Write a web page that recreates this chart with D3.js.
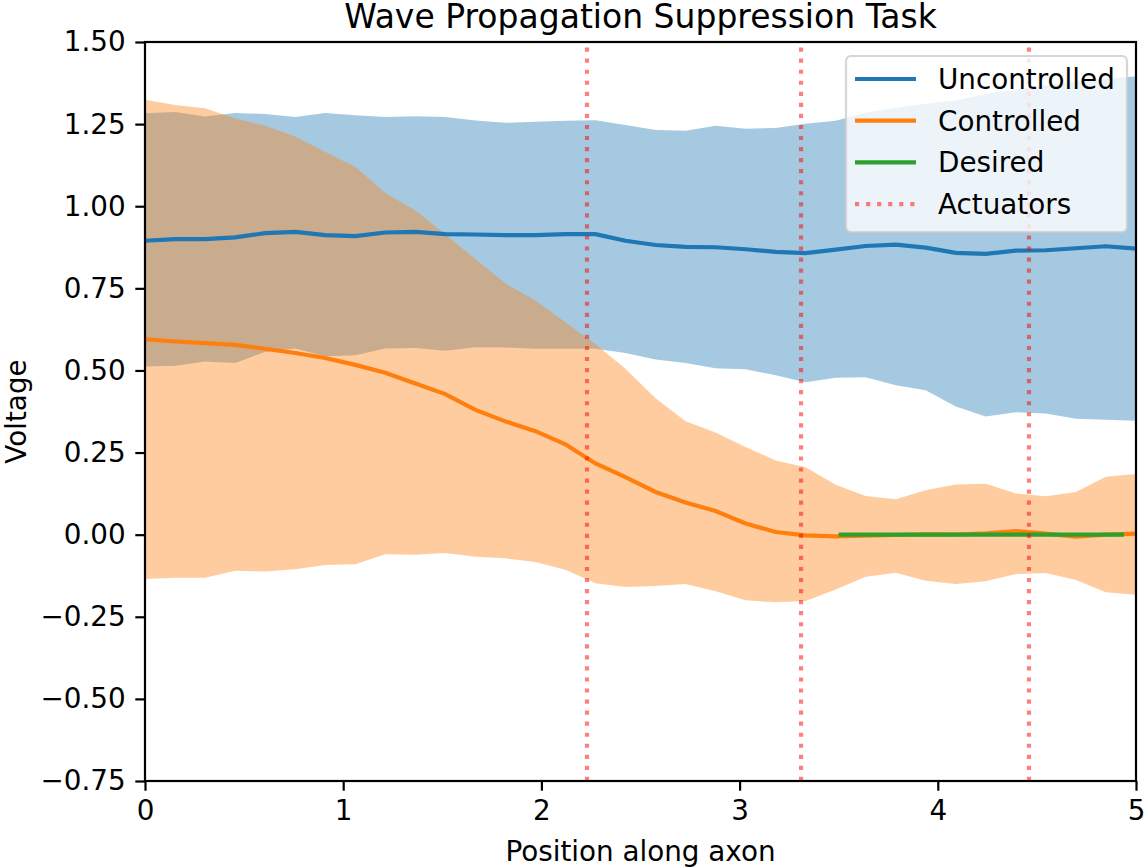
<!DOCTYPE html>
<html>
<head>
<meta charset="utf-8">
<script src="https://cdn.jsdelivr.net/npm/d3@7"></script>
<style>
  body { margin: 0; background: #fff; }
  text { font-family: "DejaVu Sans", sans-serif; fill: #000; }
</style>
</head>
<body>
<svg id="chart" width="1144" height="868"></svg>
<script>
// positions along the axon (every second grid point of the simulation)
const positions = [0, 0.152, 0.303, 0.455, 0.606, 0.758, 0.909, 1.061, 1.212, 1.364,
  1.515, 1.667, 1.818, 1.970, 2.121, 2.273, 2.424, 2.576, 2.727, 2.879,
  3.030, 3.182, 3.333, 3.485, 3.636, 3.788, 3.939, 4.091, 4.242, 4.394,
  4.545, 4.697, 4.848, 5.0];

// uncontrolled voltage: mean and band
const uncMean = [0.895, 0.900, 0.900, 0.905, 0.918, 0.922, 0.912, 0.909, 0.920, 0.922,
  0.915, 0.914, 0.912, 0.912, 0.915, 0.915, 0.895, 0.882, 0.876, 0.875,
  0.869, 0.861, 0.857, 0.868, 0.879, 0.883, 0.874, 0.858, 0.855, 0.865,
  0.866, 0.872, 0.878, 0.871];
const uncLow = [0.512, 0.514, 0.527, 0.523, 0.556, 0.567, 0.543, 0.546, 0.567, 0.568,
  0.560, 0.571, 0.570, 0.566, 0.566, 0.566, 0.553, 0.533, 0.523, 0.507,
  0.504, 0.485, 0.464, 0.478, 0.479, 0.455, 0.440, 0.390, 0.360, 0.373,
  0.369, 0.353, 0.350, 0.347];
const uncHigh = [1.283, 1.287, 1.273, 1.284, 1.281, 1.272, 1.284, 1.277, 1.272, 1.274,
  1.272, 1.261, 1.254, 1.257, 1.260, 1.262, 1.247, 1.232, 1.230, 1.245,
  1.236, 1.238, 1.251, 1.260, 1.285, 1.300, 1.312, 1.322, 1.342, 1.355,
  1.368, 1.380, 1.390, 1.395];

// controlled voltage: mean and band
const ctrlMean = [0.595, 0.588, 0.583, 0.578, 0.566, 0.553, 0.538, 0.517, 0.493, 0.460,
  0.428, 0.380, 0.345, 0.315, 0.275, 0.217, 0.175, 0.130, 0.098, 0.072,
  0.034, 0.008, -0.002, -0.005, -0.003, -0.001, 0.001, 0.000, 0.004, 0.011,
  0.003, -0.006, 0.000, 0.003];
const ctrlLow = [-0.135, -0.131, -0.131, -0.110, -0.112, -0.105, -0.092, -0.090, -0.060, -0.061,
  -0.056, -0.067, -0.072, -0.083, -0.107, -0.148, -0.159, -0.156, -0.150, -0.172,
  -0.200, -0.206, -0.202, -0.167, -0.128, -0.116, -0.140, -0.150, -0.142, -0.120,
  -0.117, -0.138, -0.175, -0.183];
const ctrlHigh = [1.324, 1.308, 1.298, 1.267, 1.245, 1.212, 1.165, 1.120, 1.040, 0.988,
  0.914, 0.839, 0.765, 0.713, 0.647, 0.580, 0.505, 0.415, 0.345, 0.311,
  0.267, 0.226, 0.205, 0.152, 0.118, 0.108, 0.135, 0.153, 0.155, 0.125,
  0.117, 0.130, 0.176, 0.185];

// desired target on the last part of the axon
const desiredX = [3.5, 4.94];
const desiredY = [0, 0];

// actuator positions
const actuators = [2.23, 3.31, 4.46];

const xTicks = [0, 1, 2, 3, 4, 5];
const yTicks = [-0.75, -0.5, -0.25, 0, 0.25, 0.5, 0.75, 1.0, 1.25, 1.5];

const legendItems = [
  { label: 'Uncontrolled', color: '#1f77b4', dash: null, op: 1 },
  { label: 'Controlled', color: '#ff7f0e', dash: null, op: 1 },
  { label: 'Desired', color: '#2ca02c', dash: null, op: 1 },
  { label: 'Actuators', color: 'red', dash: '4.17,6.88', op: 0.5 }
];

// layout
const plotLeft = 145, plotRight = 1136, plotTop = 42, plotBottom = 781;
const fontSize = 27.8;
const lineW = 4.17;

const svg = d3.select('#chart');

const x = d3.scaleLinear().domain([0, 5]).range([plotLeft, plotRight]);
const y = d3.scaleLinear().domain([-0.75, 1.5]).range([plotBottom, plotTop]);

const rows = positions.map((p, i) => ({
  p,
  um: uncMean[i], ul: uncLow[i], uh: uncHigh[i],
  cm: ctrlMean[i], cl: ctrlLow[i], ch: ctrlHigh[i]
}));

// bands
const bandUnc = d3.area().x(d => x(d.p)).y0(d => y(d.ul)).y1(d => y(d.uh));
const bandCtrl = d3.area().x(d => x(d.p)).y0(d => y(d.cl)).y1(d => y(d.ch));

svg.append('path').datum(rows)
  .attr('d', bandUnc)
  .attr('fill', '#1f77b4')
  .attr('fill-opacity', 0.4);

svg.append('path').datum(rows)
  .attr('d', bandCtrl)
  .attr('fill', '#ff7f0e')
  .attr('fill-opacity', 0.4);

// mean lines
const lineUnc = d3.line().x(d => x(d.p)).y(d => y(d.um));
const lineCtrl = d3.line().x(d => x(d.p)).y(d => y(d.cm));

svg.append('path').datum(rows)
  .attr('d', lineUnc)
  .attr('fill', 'none')
  .attr('stroke', '#1f77b4')
  .attr('stroke-width', lineW);

svg.append('path').datum(rows)
  .attr('d', lineCtrl)
  .attr('fill', 'none')
  .attr('stroke', '#ff7f0e')
  .attr('stroke-width', lineW);

// desired
svg.append('path').datum(desiredX.map((d, i) => [d, desiredY[i]]))
  .attr('d', d3.line().x(d => x(d[0])).y(d => y(d[1])))
  .attr('fill', 'none')
  .attr('stroke', '#2ca02c')
  .attr('stroke-width', lineW);

// actuators, drawn bottom to top like axvline
svg.selectAll('.actuator').data(actuators).enter().append('line')
  .attr('class', 'actuator')
  .attr('x1', d => x(d)).attr('x2', d => x(d))
  .attr('y1', plotBottom).attr('y2', plotTop)
  .attr('stroke', 'red')
  .attr('stroke-opacity', 0.5)
  .attr('stroke-width', lineW)
  .attr('stroke-dasharray', '4.17,6.88');

// axes
const xAxis = d3.axisBottom(x).tickValues(xTicks).tickFormat(d3.format('d'))
  .tickSize(9.7).tickPadding(9.7);
const yAxis = d3.axisLeft(y).tickValues(yTicks).tickFormat(d3.format('.2f'))
  .tickSize(9.7).tickPadding(9.7);

const gx = svg.append('g').attr('transform', `translate(0,${plotBottom})`).call(xAxis);
const gy = svg.append('g').attr('transform', `translate(${plotLeft},0)`).call(yAxis);

[gx, gy].forEach(g => {
  g.select('.domain').remove();
  g.selectAll('.tick line').attr('stroke', '#000').attr('stroke-width', 2.2);
  g.selectAll('.tick text')
    .style('font-family', '"DejaVu Sans", sans-serif')
    .style('font-size', fontSize + 'px')
    .attr('fill', '#000');
});

// frame
svg.append('rect')
  .attr('x', plotLeft).attr('y', plotTop)
  .attr('width', plotRight - plotLeft).attr('height', plotBottom - plotTop)
  .attr('fill', 'none')
  .attr('stroke', '#000')
  .attr('stroke-width', 2.2);

// titles
svg.append('text')
  .attr('x', (plotLeft + plotRight) / 2).attr('y', 28)
  .attr('text-anchor', 'middle')
  .style('font-size', '33px')
  .text('Wave Propagation Suppression Task');

svg.append('text')
  .attr('x', (plotLeft + plotRight) / 2).attr('y', 861)
  .attr('text-anchor', 'middle')
  .style('font-size', fontSize + 'px')
  .text('Position along axon');

svg.append('text')
  .attr('transform', `translate(26,${(plotTop + plotBottom) / 2}) rotate(-90)`)
  .attr('text-anchor', 'middle')
  .style('font-size', fontSize + 'px')
  .text('Voltage');

// legend
const legendG = svg.append('g').attr('transform', 'translate(846,56)');

legendG.append('rect')
  .attr('width', 281).attr('height', 176)
  .attr('rx', 5).attr('ry', 5)
  .attr('fill', '#fff').attr('fill-opacity', 0.8)
  .attr('stroke', '#cccccc').attr('stroke-opacity', 0.8)
  .attr('stroke-width', 2.2);

const item = legendG.selectAll('.item').data(legendItems).enter().append('g')
  .attr('class', 'item')
  .attr('transform', (d, i) => `translate(0,${23 + i * 41.7})`);

item.append('line')
  .attr('x1', 9).attr('x2', 70)
  .attr('stroke', d => d.color)
  .attr('stroke-opacity', d => d.op)
  .attr('stroke-width', lineW)
  .attr('stroke-dasharray', d => d.dash);

item.append('text')
  .attr('x', 92).attr('dy', '0.36em')
  .style('font-size', fontSize + 'px')
  .text(d => d.label);
</script>
</body>
</html>
